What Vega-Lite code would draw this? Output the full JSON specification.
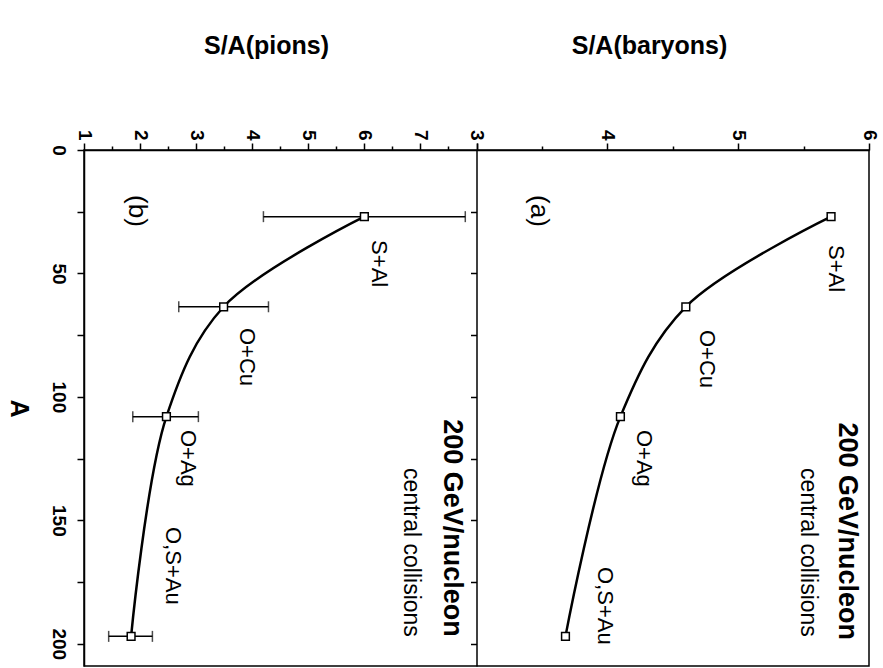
{
  "$schema": "https://vega.github.io/schema/vega-lite/v6.json",
  "width": 785,
  "height": 516,
  "autosize": {"type": "none"},
  "padding": {"left": 84, "top": 150, "right": 14, "bottom": 2},
  "background": "white",
  "config": {
    "font": "Liberation Sans",
    "view": {"stroke": "black", "strokeWidth": 1.5},
    "axis": {"grid": false, "domainColor": "black", "tickColor": "black", "labelColor": "black", "titleColor": "black", "domainWidth": 1.5, "tickWidth": 1.5, "labelOverlap": false, "labelBound": false, "labelFlush": false}
  },
  "datasets": {
    "pions": [
      {"system": "S+Al", "A": 27, "S": 6.0, "lo": 4.2, "hi": 7.8},
      {"system": "O+Cu", "A": 63.5, "S": 3.49, "lo": 2.69, "hi": 4.29},
      {"system": "O+Ag", "A": 108, "S": 2.47, "lo": 1.87, "hi": 3.04},
      {"system": "O,S+Au", "A": 197, "S": 1.84, "lo": 1.44, "hi": 2.22}
    ],
    "baryons": [
      {"system": "S+Al", "A": 27, "S": 5.71},
      {"system": "O+Cu", "A": 63.5, "S": 4.6},
      {"system": "O+Ag", "A": 108, "S": 4.1},
      {"system": "O,S+Au", "A": 197, "S": 3.68}
    ],
    "pionLabels": [
      {"text": "S+Al", "A": 36.5, "S": 6.26},
      {"text": "O+Cu", "A": 72.1, "S": 3.9},
      {"text": "O+Ag", "A": 113.4, "S": 2.85},
      {"text": "O,S+Au", "A": 152.7, "S": 2.58}
    ],
    "baryonLabels": [
      {"text": "S+Al", "A": 38.5, "S": 5.75},
      {"text": "O+Cu", "A": 72.9, "S": 4.76},
      {"text": "O+Ag", "A": 113.4, "S": 4.28},
      {"text": "O,S+Au", "A": 168.9, "S": 3.98}
    ],
    "pionNotes": [
      {"text": "(b)", "A": 24.7, "S": 1.94},
      {"text": "200 GeV/nucleon", "A": 197.2, "S": 7.56},
      {"text": "central collisions", "A": 197.2, "S": 6.84}
    ],
    "baryonNotes": [
      {"text": "(a)", "A": 24.7, "S": 3.48},
      {"text": "200 GeV/nucleon", "A": 198.5, "S": 5.83},
      {"text": "central collisions", "A": 197.2, "S": 5.53}
    ]
  },
  "layer": [
    {
      "encoding": {
        "x": {
          "field": "S", "type": "quantitative", "title": "S/A(pions)",
          "scale": {"domain": [1, 8], "range": [0, 392.5], "nice": false, "zero": false},
          "axis": {
            "orient": "top",
            "values": [1, 1.5, 2, 2.5, 3, 3.5, 4, 4.5, 5, 5.5, 6, 6.5, 7, 7.5, 8],
            "labelExpr": "datum.value % 1 == 0 && datum.value < 8 ? format(datum.value, 'd') : ''",
            "labelAngle": 90, "labelAlign": "right", "labelBaseline": "middle",
            "labelFontSize": 19, "labelFontWeight": "bold", "labelPadding": 3,
            "tickSize": {"condition": {"test": "datum.value % 1 == 0", "value": 7}, "value": 4},
            "titleX": 182, "titleY": -105, "titleAngle": 0, "titleAlign": "center", "titleBaseline": "middle",
            "titleFontSize": 25, "titleFontWeight": "bold"
          }
        },
        "y": {
          "field": "A", "type": "quantitative", "title": "A",
          "scale": {"domain": [0, 209], "reverse": true, "nice": false, "zero": false},
          "axis": {
            "orient": "left",
            "values": [0, 25, 50, 75, 100, 125, 150, 175, 200],
            "labelExpr": "datum.value % 50 == 0 ? datum.label : ''",
            "labelAngle": 90, "labelAlign": "center", "labelBaseline": "top",
            "labelFontSize": 19, "labelFontWeight": "bold", "labelPadding": 10,
            "tickSize": 7,
            "titleX": -66, "titleY": 258, "titleAngle": 90, "titleAlign": "center", "titleBaseline": "middle",
            "titleFontSize": 25, "titleFontWeight": "bold"
          }
        }
      },
      "layer": [
        {
          "data": {"name": "pions"},
          "mark": {"type": "rule", "color": "black", "strokeWidth": 1.5},
          "encoding": {
            "x": {"field": "lo", "type": "quantitative", "title": "S/A(pions)"},
            "x2": {"field": "hi"}
          }
        },
        {
          "data": {"name": "pions"},
          "transform": [{"fold": ["lo", "hi"], "as": ["end", "value"]}],
          "mark": {"type": "tick", "orient": "vertical", "size": 11, "thickness": 1.5, "color": "black"},
          "encoding": {
            "x": {"field": "value", "type": "quantitative", "title": "S/A(pions)"}
          }
        },
        {
          "data": {"name": "pions"},
          "mark": {"type": "line", "interpolate": "catmull-rom", "color": "black", "strokeWidth": 2.5},
          "encoding": {"order": {"field": "A", "type": "quantitative"}}
        },
        {
          "data": {"name": "pions"},
          "mark": {"type": "point", "shape": "square", "size": 60, "filled": true, "fill": "white", "stroke": "black", "strokeWidth": 1.5, "opacity": 1}
        },
        {
          "data": {"name": "pionLabels"},
          "mark": {"type": "text", "angle": 90, "align": "left", "baseline": "middle", "fontSize": 22, "color": "black"},
          "encoding": {"text": {"field": "text"}}
        },
        {
          "data": {"name": "pionNotes"},
          "transform": [{"filter": "datum.text == '(b)'"}],
          "mark": {"type": "text", "angle": 90, "align": "center", "baseline": "middle", "fontSize": 26, "color": "black"},
          "encoding": {"text": {"field": "text"}}
        },
        {
          "data": {"name": "pionNotes"},
          "transform": [{"filter": "datum.text == '200 GeV/nucleon'"}],
          "mark": {"type": "text", "angle": 90, "align": "right", "baseline": "middle", "fontSize": 27, "fontWeight": "bold", "color": "black"},
          "encoding": {"text": {"field": "text"}}
        },
        {
          "data": {"name": "pionNotes"},
          "transform": [{"filter": "datum.text == 'central collisions'"}],
          "mark": {"type": "text", "angle": 90, "align": "right", "baseline": "middle", "fontSize": 23, "color": "black"},
          "encoding": {"text": {"field": "text"}}
        }
      ]
    },
    {
      "encoding": {
        "x": {
          "field": "S", "type": "quantitative", "title": "S/A(baryons)",
          "scale": {"domain": [3, 6], "range": [392.5, 785], "nice": false, "zero": false},
          "axis": {
            "orient": "top",
            "values": [3, 3.5, 4, 4.5, 5, 5.5, 6],
            "labelExpr": "datum.value % 1 == 0 ? format(datum.value, 'd') : ''",
            "labelAngle": 90, "labelAlign": "right", "labelBaseline": "middle",
            "labelFontSize": 19, "labelFontWeight": "bold", "labelPadding": 3,
            "tickSize": {"condition": {"test": "datum.value % 1 == 0", "value": 7}, "value": 4},
            "titleX": 565, "titleY": -105, "titleAngle": 0, "titleAlign": "center", "titleBaseline": "middle",
            "titleFontSize": 25, "titleFontWeight": "bold"
          }
        },
        "y": {
          "field": "A", "type": "quantitative",
          "axis": {
            "orient": "left", "offset": -392.5,
            "values": [25, 50, 75, 100, 125, 150, 175, 200],
            "labels": false, "title": null, "tickSize": 6
          }
        }
      },
      "layer": [
        {
          "data": {"name": "baryons"},
          "mark": {"type": "line", "interpolate": "catmull-rom", "color": "black", "strokeWidth": 2.5},
          "encoding": {"order": {"field": "A", "type": "quantitative"}}
        },
        {
          "data": {"name": "baryons"},
          "mark": {"type": "point", "shape": "square", "size": 60, "filled": true, "fill": "white", "stroke": "black", "strokeWidth": 1.5, "opacity": 1}
        },
        {
          "data": {"name": "baryonLabels"},
          "mark": {"type": "text", "angle": 90, "align": "left", "baseline": "middle", "fontSize": 22, "color": "black"},
          "encoding": {"text": {"field": "text"}}
        },
        {
          "data": {"name": "baryonNotes"},
          "transform": [{"filter": "datum.text == '(a)'"}],
          "mark": {"type": "text", "angle": 90, "align": "center", "baseline": "middle", "fontSize": 26, "color": "black"},
          "encoding": {"text": {"field": "text"}}
        },
        {
          "data": {"name": "baryonNotes"},
          "transform": [{"filter": "datum.text == '200 GeV/nucleon'"}],
          "mark": {"type": "text", "angle": 90, "align": "right", "baseline": "middle", "fontSize": 27, "fontWeight": "bold", "color": "black"},
          "encoding": {"text": {"field": "text"}}
        },
        {
          "data": {"name": "baryonNotes"},
          "transform": [{"filter": "datum.text == 'central collisions'"}],
          "mark": {"type": "text", "angle": 90, "align": "right", "baseline": "middle", "fontSize": 23, "color": "black"},
          "encoding": {"text": {"field": "text"}}
        }
      ]
    }
  ],
  "resolve": {"scale": {"x": "independent"}, "axis": {"x": "independent", "y": "independent"}}
}
